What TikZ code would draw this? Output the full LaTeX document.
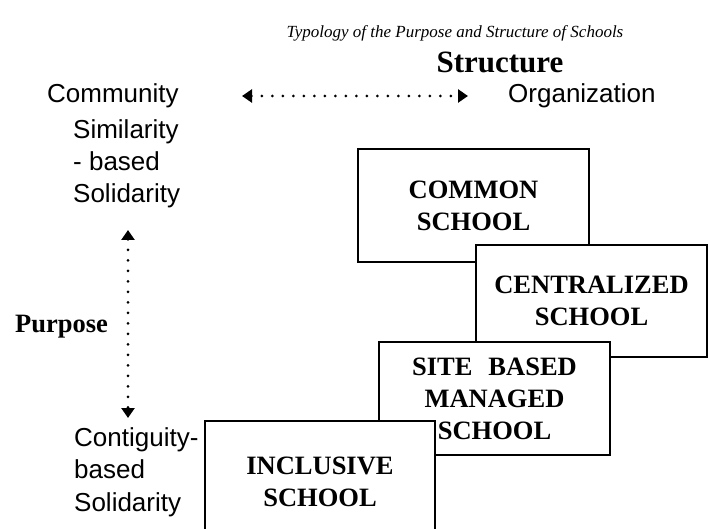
\documentclass[tikz,border=0pt]{standalone}
\usepackage{fontspec}
\setmainfont{Liberation Serif}
\newfontfamily\labelsans{Liberation Sans}
\usetikzlibrary{arrows.meta}

\tikzset{
  schoolbox/.style={draw, line width=2.2pt, fill=white, align=center,
    inner sep=0pt, font=\fontsize{26.5}{32}\selectfont\bfseries},
  axisword/.style={inner sep=0pt, font=\labelsans\fontsize{26}{30}\selectfont},
  polelabel/.style={inner sep=0pt, align=left, anchor=west},
  dotarrow/.style={line width=3pt, line cap=round, dash pattern=on 0pt off 10.5pt,
    {Triangle[length=10pt,width=13pt]}-{Triangle[length=10pt,width=13pt]}},
}

\begin{document}
\begin{tikzpicture}[x=1pt, y=-1pt]
  \useasboundingbox (0,0) rectangle (709,529);

  % headings
  \node[inner sep=0pt, font=\fontsize{17}{20}\selectfont\itshape] (title) at (455,33)
    {Typology of the Purpose and Structure of Schools};
  \node[inner sep=0pt, font=\fontsize{31}{34}\selectfont\bfseries] (structure) at (500,62) {Structure};

  % structure axis
  \node[axisword, anchor=west] (community) at (47,96) {Community};
  \node[axisword, anchor=west] (organization) at (508,96) {Organization};
  \coordinate (hleft) at (242,96);
  \coordinate (hright) at (468,96);
  \draw[dotarrow] (hleft) -- (hright);

  % purpose axis
  \node[polelabel, font=\labelsans\fontsize{26}{32}\selectfont] (similar) at (73,164)
    {Similarity\\- based\\Solidarity};
  \node[polelabel, font=\labelsans\fontsize{26}{32.5}\selectfont] (contig) at (74,472)
    {Contiguity-\\based\\Solidarity};
  \node[inner sep=0pt, font=\fontsize{26.5}{30}\selectfont\bfseries] (purpose) at (61.5,327) {Purpose};
  \coordinate (vtop) at (128,230);
  \coordinate (vbottom) at (128,418);
  \draw[dotarrow] (vtop) -- (vbottom);

  % school types, stacked back to front
  \node[schoolbox, minimum width=231pt, minimum height=113pt] (common) at (473.5,205.5)
    {COMMON\\SCHOOL};
  \node[schoolbox, minimum width=231pt, minimum height=112pt] (central) at (591.5,301)
    {CENTRALIZED\\SCHOOL};
  \node[schoolbox, minimum width=231pt, minimum height=113pt] (site) at (494.5,398.5)
    {SITE\hspace{0.6em}BASED\\MANAGED\\SCHOOL};
  \node[schoolbox, minimum width=230pt, minimum height=122pt] (inclusive) at (320,482)
    {INCLUSIVE\\SCHOOL};
\end{tikzpicture}
\end{document}
